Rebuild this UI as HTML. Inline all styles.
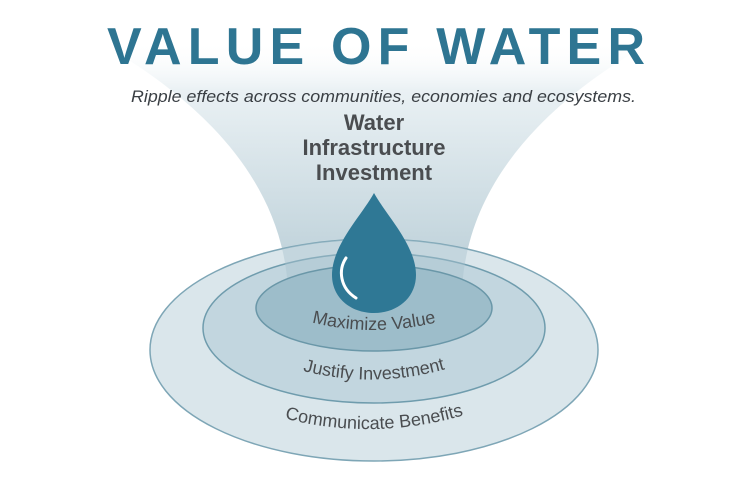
<!DOCTYPE html>
<html><head><style>
html,body{margin:0;padding:0;background:#fff;}
svg{display:block;}
</style></head><body>
<svg width="750" height="490" viewBox="0 0 750 490" xmlns="http://www.w3.org/2000/svg">
<defs>
<linearGradient id="fun" x1="0" y1="0" x2="0" y2="1">
<stop offset="0" stop-color="#ffffff" stop-opacity="0"/>
<stop offset="0.2" stop-color="#eaf1f4"/>
<stop offset="1" stop-color="#b8cdd6"/>
</linearGradient>
<path id="a1" d="M 296 318 Q 374 342 452 318"/>
<path id="a2" d="M 286 366 Q 374 394 462 364"/>
<path id="a3" d="M 262 412 Q 374 448 486 408"/>
<clipPath id="cp"><ellipse cx="374" cy="350" rx="224" ry="111"/></clipPath>
</defs>
<rect width="750" height="490" fill="#fff"/>
<path d="M 95 40 C 185 90, 282 170, 288 290 L 462 290 C 468 170, 565 90, 655 40 Z" fill="url(#fun)"/>
<ellipse cx="374" cy="350" rx="224" ry="111" fill="#dae6eb" stroke="#7ea6b6" stroke-width="1.5"/>
<ellipse cx="374" cy="328" rx="171" ry="75" fill="#c2d6df" stroke="#6f9cad" stroke-width="1.5"/>
<path d="M 95 40 C 185 90, 282 170, 288 290 L 462 290 C 468 170, 565 90, 655 40 Z" fill="#a9c3ce" opacity="0.45" clip-path="url(#cp)"/>
<ellipse cx="374" cy="308" rx="118" ry="43" fill="#9dbdca" stroke="#6a97a8" stroke-width="1.5"/>
<path d="M 374 193 C 386 215, 416 245, 416 275 C 416 298, 397 313, 374 313 C 351 313, 332 298, 332 275 C 332 245, 362 215, 374 193 Z" fill="#2f7895"/>
<path d="M 346 258 C 338 270, 340 288, 356 298" fill="none" stroke="#fff" stroke-width="3" stroke-linecap="round"/>
<text x="107" y="64" font-family="Liberation Sans, sans-serif" font-weight="bold" font-size="52" fill="#2e7592" textLength="538" lengthAdjust="spacing">VALUE OF WATER</text>
<text x="131" y="102" font-family="Liberation Sans, sans-serif" font-style="italic" font-size="17" fill="#3a3f44" textLength="505" lengthAdjust="spacingAndGlyphs">Ripple effects across communities, economies and ecosystems.</text>
<g font-family="Liberation Sans, sans-serif" font-weight="bold" font-size="22" fill="#4a4d50" text-anchor="middle">
<text x="374" y="130">Water</text>
<text x="374" y="155">Infrastructure</text>
<text x="374" y="180">Investment</text>
</g>
<g font-family="Liberation Sans, sans-serif" font-size="18" fill="#4a4d50">
<text><textPath href="#a1" startOffset="50%" text-anchor="middle">Maximize Value</textPath></text>
<text><textPath href="#a2" startOffset="50%" text-anchor="middle">Justify Investment</textPath></text>
<text><textPath href="#a3" startOffset="50%" text-anchor="middle">Communicate Benefits</textPath></text>
</g>
</svg>
</body></html>
